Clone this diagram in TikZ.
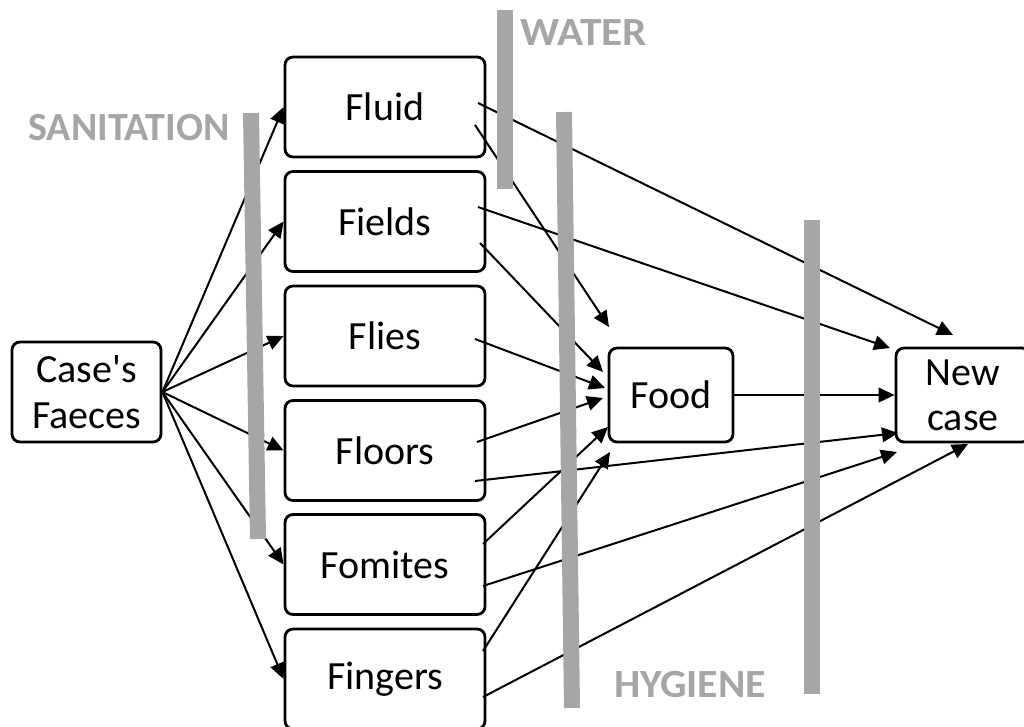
\documentclass[tikz,border=0pt]{standalone}
\usepackage{fontspec}
\usepackage{graphicx}
\newfontfamily\calfont{Carlito}
\usetikzlibrary{arrows.meta}
\definecolor{bargray}{RGB}{166,166,166}
\begin{document}
\begin{tikzpicture}[x=0.75pt,y=-0.75pt,
  box/.style={draw=black,line width=2.1pt,rounded corners=6pt,align=center,
    inner sep=0pt,font=\calfont\fontsize{30}{34}\selectfont},
  midbox/.style={box,minimum width=150pt,minimum height=75pt},
  arr/.style={line width=1.5pt,-{Triangle[length=12pt,width=11pt]}},
  bar/.style={line width=12pt,draw=bargray},
  lbl/.style={text=bargray,font=\calfont\bfseries\fontsize{30}{34}\selectfont,inner sep=0pt}]
\useasboundingbox (0,0) rectangle (1024,727);
\clip (0,0) rectangle (1024,727);

% nodes
\node[box,minimum width=111.75pt,minimum height=75pt] (faeces) at (86.5,392) {Case's\\Faeces};
\node[midbox] (fluid)   at (385,107)   {Fluid};
\node[midbox] (fields)  at (385,221.5) {Fields};
\node[midbox] (flies)   at (385,336)   {Flies};
\node[midbox] (floors)  at (385,450.5) {Floors};
\node[midbox] (fomites) at (385,564.5) {Fomites};
\node[midbox] (fingers) at (385,679)   {Fingers};
\node[box,minimum width=93pt,minimum height=70.5pt] (food) at (671,395) {Food};
\node[box,minimum width=100.5pt,minimum height=70.5pt] (newcase) at (963,395) {New\\case};

% faeces to vehicles
\foreach \n in {fluid,fields,flies,floors,fomites,fingers}
  \draw[arr] (faeces.east) -- (\n.west);

% vehicles to food / new case
\draw[arr] ([shift={(93,-4)}]fluid.center)    -- ([shift={(-10,-60)}]newcase.center);
\draw[arr] ([shift={(90,18)}]fluid.center)    -- ([shift={(-62,-68)}]food.center);
\draw[arr] ([shift={(93,-14.5)}]fields.center) -- ([shift={(-73,-47)}]newcase.center);
\draw[arr] ([shift={(95,21.5)}]fields.center) -- ([shift={(-68,-23)}]food.center);
\draw[arr] ([shift={(90,3)}]flies.center)     -- ([shift={(-66,-7)}]food.center);
\draw[arr] ([shift={(92,-8.5)}]floors.center) -- ([shift={(-68,3)}]food.center);
\draw[arr] ([shift={(90,30.5)}]floors.center) -- ([shift={(-65,38)}]newcase.center);
\draw[arr] ([shift={(98,-20.5)}]fomites.center) -- ([shift={(-63,32)}]food.center);
\draw[arr] ([shift={(98,21.5)}]fomites.center)  -- ([shift={(-66,57)}]newcase.center);
\draw[arr] ([shift={(98,-28)}]fingers.center)   -- ([shift={(-61,57)}]food.center);
\draw[arr] ([shift={(98,18)}]fingers.center)    -- ([shift={(5,49)}]newcase.center);
\draw[arr] (food.east) -- (newcase.west);

% barriers
\coordinate (s1) at (251,113); \coordinate (s2) at (258,539);
\coordinate (w1) at (505,10);  \coordinate (w2) at (505,189);
\coordinate (h1) at (564,112); \coordinate (h2) at (572,708);
\coordinate (k1) at (812,220); \coordinate (k2) at (812,694);
\draw[bar] (s1) -- (s2);
\draw[bar] (w1) -- (w2);
\draw[bar] (h1) -- (h2);
\draw[bar] (k1) -- (k2);

% labels
\node[lbl,anchor=east] (lsan) at (230,127.5) {SANITATION};
\node[lbl] (lwat) at (583.5,32.5) {\scalebox{1.08}[1]{WATER}};
\node[lbl] (lhyg) at (690,684.5) {\scalebox{1.04}[1]{HYGIENE}};
\end{tikzpicture}
\end{document}
